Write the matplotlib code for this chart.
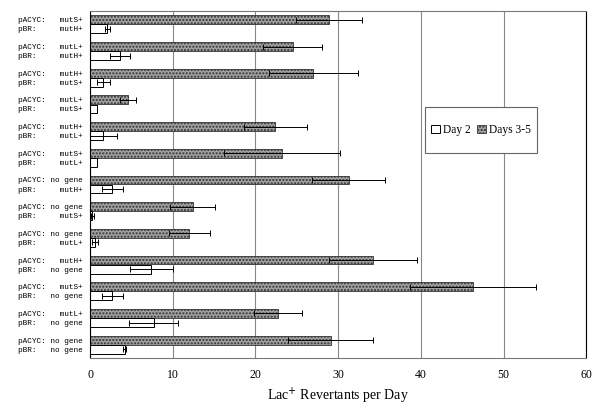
import matplotlib.pyplot as plt
from matplotlib.patches import Rectangle
import numpy as np

# pares de plasmidos (pACYC, pBR), de arriba hacia abajo
genes_pacyc = ['mutS+', 'mutL+', 'mutH+', 'mutL+', 'mutH+', 'mutS+', 'no gene',
               'no gene', 'no gene', 'mutH+', 'mutS+', 'mutL+', 'no gene']
genes_pbr = ['mutH+', 'mutH+', 'mutS+', 'mutS+', 'mutL+', 'mutL+', 'mutH+',
             'mutS+', 'mutL+', 'no gene', 'no gene', 'no gene', 'no gene']

dias_3_5 = [28.9, 24.5, 27.0, 4.6, 22.4, 23.2, 31.3, 12.4, 12.0, 34.2, 46.3, 22.7, 29.1]
err_3_5 = [4.0, 3.6, 5.4, 1.0, 3.8, 7.0, 4.4, 2.7, 2.5, 5.3, 7.6, 2.9, 5.1]
dia_2 = [2.1, 3.6, 1.6, 0.9, 1.6, 0.9, 2.7, 0.3, 0.6, 7.4, 2.7, 7.7, 4.2]
err_2 = [0.3, 1.2, 0.8, 0.0, 1.7, 0.0, 1.3, 0.2, 0.4, 2.6, 1.3, 3.0, 0.2]

n = len(genes_pacyc)
y = np.arange(n)
off = 0.17
h = 0.33

fig = plt.figure(figsize=(6, 4.08), dpi=100)
ax = fig.add_axes([0.15, 0.1225, 0.827, 0.8505])

ax.grid(axis='x', color='#888888', linewidth=0.8, zorder=0)
ax.set_axisbelow(True)

ax.barh(y - off, dias_3_5, height=h, color='#a0a0a0', edgecolor='#333333',
        hatch='.....', linewidth=0.6, zorder=2, label='Days 3-5')
ax.barh(y + off, dia_2, height=h, color='white', edgecolor='black',
        linewidth=0.7, zorder=2, label='Day 2')
ax.errorbar(dias_3_5, y - off, xerr=err_3_5, fmt='none', ecolor='black',
            elinewidth=0.7, capsize=2, capthick=0.7, zorder=3)
ax.errorbar(dia_2, y + off, xerr=err_2, fmt='none', ecolor='black',
            elinewidth=0.7, capsize=2, capthick=0.7, zorder=3)

# etiquetas de los ejes
pos = []
etiquetas = []
for i in range(n):
    pos += [y[i] - off, y[i] + off]
    etiquetas += [f"{'pACYC:':<7}{genes_pacyc[i]:>7}", f"{'pBR:':<7}{genes_pbr[i]:>7}"]
ax.set_yticks(pos)
ax.set_yticklabels(etiquetas, family='Liberation Mono', fontsize=5.6)
ax.tick_params(axis='y', length=0, pad=5)

ax.set_xlim(0, 60)
ax.set_ylim(n - 0.5, -0.5)
ax.set_xticks(range(0, 61, 10))
ax.tick_params(axis='x', length=0, pad=8, labelsize=8.5)
for t in ax.get_xticklabels():
    t.set_family('Liberation Serif')
ax.set_xlabel('Lac$^{+}$ Revertants per Day', family='Liberation Serif',
              fontsize=10, labelpad=3)

for s in ['left', 'right']:
    ax.spines[s].set_color('black')
ax.spines['bottom'].set_color('#777777')
ax.spines['top'].set_color('#777777')
for s in ax.spines.values():
    s.set_linewidth(0.8)

# recuadro de la leyenda
ax.add_patch(Rectangle((0.675, 0.591), 0.226, 0.132, transform=ax.transAxes,
                       facecolor='white', edgecolor='#666666', linewidth=0.8,
                       zorder=4))
handles, labels = ax.get_legend_handles_labels()
leg = ax.legend(handles[::-1], labels[::-1], ncol=2, loc='center',
                bbox_to_anchor=(0.788, 0.657), frameon=False,
                borderpad=0.2, handlelength=0.75, handleheight=0.75,
                handletextpad=0.25, columnspacing=0.6,
                prop={'family': 'Liberation Serif', 'size': 8.3})
leg.set_zorder(5)

plt.savefig('out.png', dpi=100)
